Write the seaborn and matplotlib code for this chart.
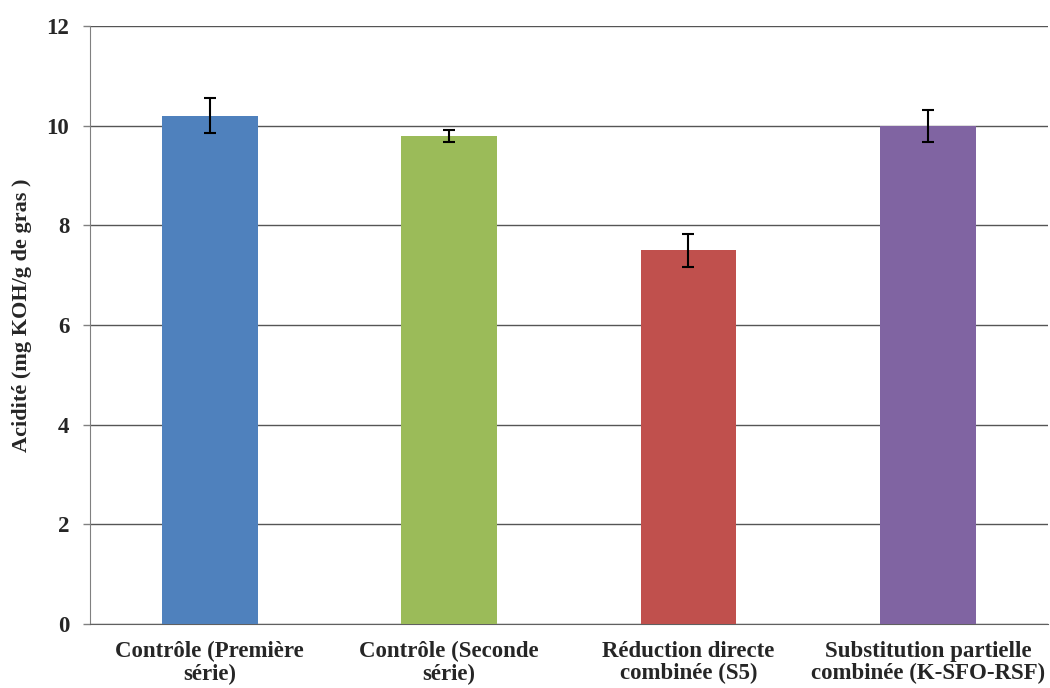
import matplotlib
matplotlib.use("Agg")
import matplotlib.pyplot as plt
import pandas as pd
import seaborn as sns

categories = ["Contrôle (Première\nsérie)", "Contrôle (Seconde\nsérie)",
              "Réduction directe\ncombinée (S5)",
              "Substitution partielle\ncombinée (K-SFO-RSF)"]
acidity = [10.2, 9.8, 7.5, 10.0]
errors = [0.35, 0.12, 0.33, 0.32]
colors = ["#4F81BD", "#9BBB59", "#C0504D", "#8064A2"]

df = pd.DataFrame({"cat": categories, "val": acidity})

sns.set_style("white")
plt.rcParams['font.family'] = ['Liberation Serif', 'DejaVu Serif']
plt.rcParams['font.weight'] = 'bold'

fig = plt.figure(figsize=(10.5, 6.88), dpi=100)
ax = fig.add_axes([0.0857, 0.093, 0.912, 0.869])

sns.barplot(data=df, x="cat", y="val", hue="cat", palette=colors,
            saturation=1, width=0.4, linewidth=0, legend=False, ax=ax, zorder=3)
ax.errorbar(range(len(categories)), acidity, yerr=errors, fmt="none",
            ecolor="black", elinewidth=1.5, capsize=4, capthick=1.5, zorder=4)

ax.set_xlim(-0.5, 3.5)
ax.set_ylim(0, 12)
ax.set_yticks(range(0, 13, 2))
ax.yaxis.grid(True, color="#555555", linewidth=1)
ax.set_axisbelow(True)
for s in ["top", "right"]:
    ax.spines[s].set_visible(False)
ax.spines["left"].set_color("#808080")
ax.spines["bottom"].set_color("#606060")
ax.tick_params(axis="y", length=5, width=1, direction="out", color="#808080",
               left=True, labelsize=16.5, pad=10)
ax.tick_params(axis="x", length=0, labelsize=16.5, pad=12)
for lbl in ax.get_yticklabels() + ax.get_xticklabels():
    lbl.set_fontweight("bold")
for lbl in ax.get_xticklabels():
    lbl.set_linespacing(1.1)
ax.set_xlabel("")
ax.set_ylabel("Acidité (mg KOH/g de gras )", fontsize=16, fontweight="bold")
ax.yaxis.set_label_coords(-0.061, 0.516)

fig.savefig("out.png", dpi=100)
